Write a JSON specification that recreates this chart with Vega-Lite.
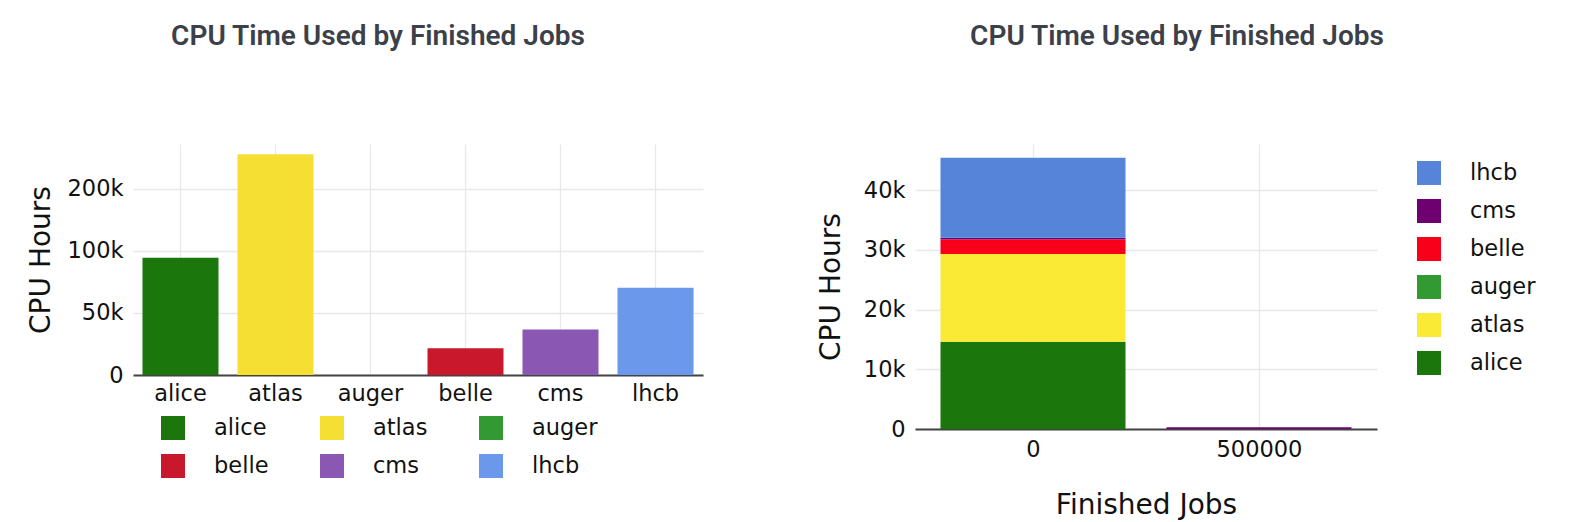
{
  "$schema": "https://vega.github.io/schema/vega-lite/v6.json",
  "padding": {"left": 27, "top": 23, "right": 0, "bottom": 0},
  "background": "white",
  "spacing": 114,
  "config": {
    "font": "DejaVu Sans",
    "view": {"stroke": null},
    "title": {"font": "Roboto", "fontSize": 28, "fontWeight": 600, "color": "#3c4048", "anchor": "middle", "frame": "group", "offset": 93},
    "axis": {"labelFont": "DejaVu Sans", "labelFontSize": 22.5, "labelColor": "#111", "titleFont": "DejaVu Sans", "titleFontSize": 28, "titleFontWeight": "normal", "titleColor": "#111", "gridColor": "#e8e8e8", "gridWidth": 1.3, "ticks": false, "domain": false},
    "legend": {"symbolType": "square", "symbolSize": 576, "symbolStrokeWidth": 0, "symbolOpacity": 1, "labelFont": "DejaVu Sans", "labelFontSize": 22.5, "labelColor": "#111", "labelOffset": 29, "labelLimit": 300, "padding": 0, "title": null}
  },
  "resolve": {"scale": {"color": "independent"}, "legend": {"color": "independent"}},
  "hconcat": [
    {
      "title": {"text": "CPU Time Used by Finished Jobs", "dx": -40},
      "width": 570,
      "height": 231,
      "data": {"values": [
        {"project": "alice", "cpu_hours": 94400},
        {"project": "atlas", "cpu_hours": 177700},
        {"project": "auger", "cpu_hours": 0},
        {"project": "belle", "cpu_hours": 21500},
        {"project": "cms", "cpu_hours": 36600},
        {"project": "lhcb", "cpu_hours": 70200}
      ]},
      "mark": {"type": "bar"},
      "encoding": {
        "x": {"field": "project", "type": "nominal", "sort": null,
          "scale": {"paddingInner": 0.2, "paddingOuter": 0.1},
          "axis": {"title": null, "labelAngle": 0, "labelPadding": 7, "grid": true, "bandPosition": 0.5, "domain": true, "domainColor": "#444", "domainWidth": 2}},
        "y": {"field": "cpu_hours", "type": "quantitative",
          "scale": {"domain": [0, 186000], "nice": false},
          "axis": {"title": "CPU Hours", "values": [0, 50000, 100000, 150000], "format": ".1s", "labelPadding": 10, "titlePadding": 12}},
        "color": {"field": "project", "type": "nominal",
          "scale": {"domain": ["alice", "atlas", "auger", "belle", "cms", "lhcb"], "range": ["#1b760b", "#f5df32", "#339933", "#c9182b", "#8a58b2", "#6c98ec"]},
          "legend": {"orient": "none", "legendX": 28, "legendY": 272, "direction": "horizontal", "columns": 3, "gridAlign": "all", "columnPadding": 40, "rowPadding": 14}}
      }
    },
    {
      "title": {"text": "CPU Time Used by Finished Jobs", "dx": 31},
      "width": 462,
      "height": 285,
      "data": {"values": [
        {"finished_jobs": 0, "project": "alice", "cpu_hours": 14600},
        {"finished_jobs": 0, "project": "atlas", "cpu_hours": 14700},
        {"finished_jobs": 0, "project": "auger", "cpu_hours": 0},
        {"finished_jobs": 0, "project": "belle", "cpu_hours": 2400},
        {"finished_jobs": 0, "project": "cms", "cpu_hours": 300},
        {"finished_jobs": 0, "project": "lhcb", "cpu_hours": 13400},
        {"finished_jobs": 500000, "project": "cms", "cpu_hours": 300}
      ]},
      "mark": {"type": "bar", "width": 185},
      "encoding": {
        "x": {"field": "finished_jobs", "type": "quantitative",
          "scale": {"domain": [-250000, 750000], "nice": false, "zero": false},
          "axis": {"title": "Finished Jobs", "values": [0, 500000], "format": "d", "labelPadding": 9, "titlePadding": 31, "grid": true, "domain": true, "domainColor": "#444", "domainWidth": 2}},
        "y": {"field": "cpu_hours", "type": "quantitative", "stack": "zero",
          "scale": {"domain": [0, 47700], "nice": false},
          "axis": {"title": "CPU Hours", "values": [0, 10000, 20000, 30000, 40000], "format": ".1s", "labelExpr": "datum.value == 0 ? '0' : datum.label", "labelPadding": 10, "titlePadding": 18}},
        "color": {"field": "project", "type": "nominal",
          "scale": {"domain": ["lhcb", "cms", "belle", "auger", "atlas", "alice"], "range": ["#5584d8", "#6e0070", "#f8001a", "#339933", "#fbea35", "#1b760b"]},
          "legend": {"orient": "none", "legendX": 502, "legendY": 17, "direction": "vertical", "rowPadding": 14}},
        "order": {"field": "project", "sort": "ascending"}
      }
    }
  ]
}
